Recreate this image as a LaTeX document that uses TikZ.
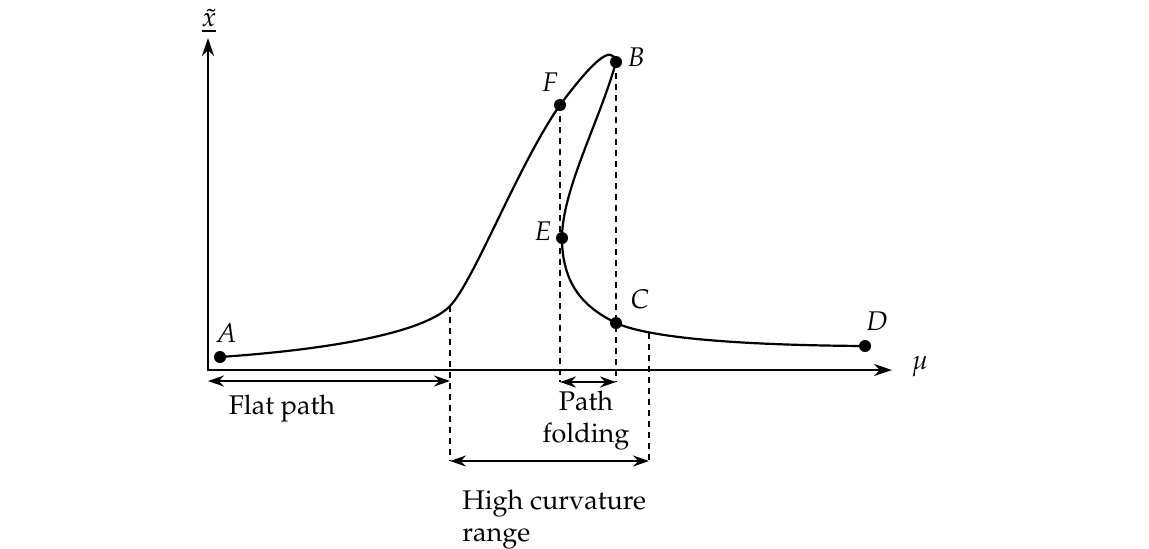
\documentclass[tikz,border=0pt]{standalone}
\usepackage[T1]{fontenc}
\usepackage{mathpazo}
\usetikzlibrary{arrows.meta,calc}

\tikzset{
  axis/.style={line width=1pt,{Stealth[length=9pt,width=6pt]}-{Stealth[length=9pt,width=6pt]}},
  branch/.style={line width=1.1pt},
  guide/.style={line width=1pt,dash pattern=on 3pt off 2.5pt},
  span/.style={line width=1pt,{Stealth[length=8pt,width=5.5pt]}-{Stealth[length=8pt,width=5.5pt]}},
  tag/.style={inner sep=0pt},
  note/.style={inner sep=0pt,font=\fontsize{13.5}{16}\selectfont},
}

\begin{document}
\begin{tikzpicture}[x=0.5pt,y=-0.5pt,font=\fontsize{13.5}{16}\selectfont]
    \useasboundingbox (0,0) rectangle (1149,548);
    % axes
    \coordinate (O) at (208,370);
    \coordinate (ytip) at (208,38);
    \coordinate (xtip) at (892,370);
    \draw[axis] (ytip) -- (O) -- (xtip);
    \node[tag] (mulab) at (920,367) {$\mu$};
    \node[tag] (xlab) at (209,21) {$\underline{\tilde{x}}$};
    % points on the path
    \coordinate (A) at (220,357);
    \coordinate (F) at (560,105);
    \coordinate (B) at (616,62);
    \coordinate (E) at (562,238);
    \coordinate (C) at (616,323);
    \coordinate (D) at (865,346);
    \coordinate (hl) at (450,306);
    \draw[branch] (A) .. controls (350,348) and (428,329) .. (hl)
      .. controls (474,281) and (518,165) .. (F)
      .. controls (590,65) and (612,42) .. (B)
      .. controls (600,120) and (562,190) .. (E)
      .. controls (562,290) and (590,310) .. (C)
      .. controls (645,336) and (720,345) .. (D);
    \foreach \p in {A,F,B,E,C,D}
      \fill (\p) circle (3pt);
    \node[tag] (Alab) at (226,333) {$A$};
    \node[tag] (Flab) at (550,82) {$F$};
    \node[tag] (Blab) at (636,57) {$B$};
    \node[tag] (Elab) at (543,231) {$E$};
    \node[tag] (Clab) at (640,299) {$C$};
    \node[tag] (Dlab) at (877,321) {$D$};
    % guides down to the ranges
    \coordinate (hr) at (649,333);
    \coordinate (fl) at (560,382);
    \coordinate (fr) at (616,382);
    \coordinate (gl) at (450,461);
    \coordinate (gr) at (649,461);
    \draw[guide] (F) -- (fl);
    \draw[guide] (B) -- (fr);
    \draw[guide] (hl) -- (gl);
    \draw[guide] (hr) -- (gr);
    % ranges
    \coordinate (s0) at (208,381);
    \coordinate (s1) at (450,381);
    \draw[span] (s0) -- (s1);
    \draw[span] (fl) -- (fr);
    \draw[span] (gl) -- (gr);
    \node[note,anchor=base] (flat) at (282,414) {Flat path};
    \node[note,anchor=north,align=center] (fold) at (586,391) {Path\\folding};
    \node[note,anchor=north west,align=left] (high) at (462,490) {High curvature\\range};
\end{tikzpicture}
\end{document}
